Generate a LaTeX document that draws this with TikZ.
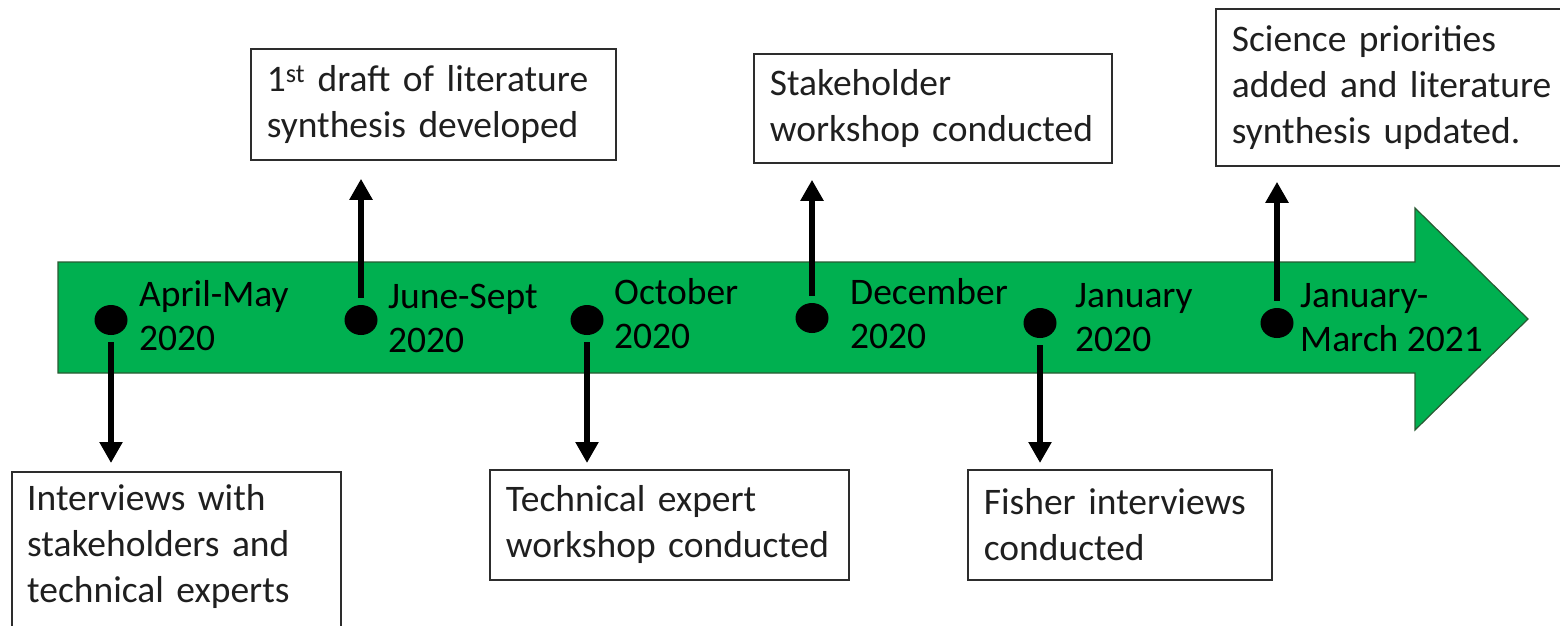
\documentclass[tikz,border=0pt]{standalone}
\usepackage{fontspec}
\setmainfont{Carlito}
\usetikzlibrary{arrows.meta,shapes.geometric}
\definecolor{timegreen}{RGB}{0,176,80}
\definecolor{timeedge}{RGB}{40,90,50}
\definecolor{boxedge}{RGB}{45,45,45}
\begin{document}
\begin{tikzpicture}[x=1pt,y=-1pt,
  datelbl/.style={anchor=west, align=left, inner sep=0pt, text=black,
    font=\fontsize{37.5}{44}\selectfont},
  evbox/.style={draw=boxedge, line width=1.8pt, anchor=north west, align=left,
    inner xsep=16pt, inner ysep=0pt, text=black!88,
    font=\fontsize{37.5}{46}\selectfont},
  evtext/.style={anchor=west, align=left, inner sep=0pt, text=black!88,
    font=\fontsize{37.5}{46}\selectfont},
  milestone/.style={ellipse, fill=black, minimum width=33pt, minimum height=30pt, inner sep=0pt},
  conn/.style={line width=6pt, -{Triangle[length=21pt,width=22pt]}}
]
\useasboundingbox (0,0) rectangle (1560,625);

% timeline arrow
\filldraw[fill=timegreen, draw=timeedge, line width=1.2pt]
  (58,262) -- (1415,262) -- (1415,208) -- (1528,319) -- (1415,430)
  -- (1415,373) -- (58,373) -- cycle;

% milestones
\node[milestone] (d1) at (111,320) {};
\node[milestone] (d2) at (361,320) {};
\node[milestone] (d3) at (587,320) {};
\node[milestone] (d4) at (812,318) {};
\node[milestone] (d5) at (1040,323) {};
\node[milestone] (d6) at (1277,323) {};

% dates
\node[datelbl] (l1) at (139,316) {April-May\\2020};
\node[datelbl] (l2) at (388,318) {June-Sept\\2020};
\node[datelbl] (l3) at (614,314) {October\\2020};
\node[datelbl] (l4) at (850,314) {December\\2020};
\node[datelbl] (l5) at (1075,318) {January\\2020};
\node[datelbl] (l6) at (1300,318) {January-\\March 2021};

% events
\node[evbox, minimum width=329pt, minimum height=190pt, inner sep=0pt] (b1) at (11,471) {};
\node[evtext, text width=297pt] (t1) at (27,546)
  {Interviews with\\stakeholders and\\technical experts};
\node[evbox, minimum height=111pt, text width=333pt] (b2) at (250,48)
  {1\textsuperscript{st} draft of literature\\synthesis developed};
\node[evbox, minimum height=110pt, text width=327pt] (b3) at (489,469)
  {Technical expert\\workshop conducted};
\node[evbox, minimum height=109pt, text width=326pt] (b4) at (753,53)
  {Stakeholder\\workshop conducted};
\node[evbox, minimum height=110pt, text width=272pt] (b5) at (967,469)
  {Fisher interviews\\conducted};
\node[evbox, minimum height=157pt, text width=338pt] (b6) at (1215,8)
  {Science priorities\\added and literature\\synthesis updated.};

% connectors
\draw[conn] ([yshift=-7pt]d1.south) -- ([yshift=8pt]d1.south |- b1.north);
\draw[conn] ([yshift=7pt]d2.north) -- ([yshift=-18pt]d2.north |- b2.south);
\draw[conn] ([yshift=-7pt]d3.south) -- ([yshift=6pt]d3.south |- b3.north);
\draw[conn] ([yshift=7pt]d4.north) -- ([yshift=-16pt]d4.north |- b4.south);
\draw[conn] ([yshift=-7pt]d5.south) -- ([yshift=6pt]d5.south |- b5.north);
\draw[conn] ([yshift=7pt]d6.north) -- ([yshift=-15pt]d6.north |- b6.south);
\end{tikzpicture}
\end{document}
